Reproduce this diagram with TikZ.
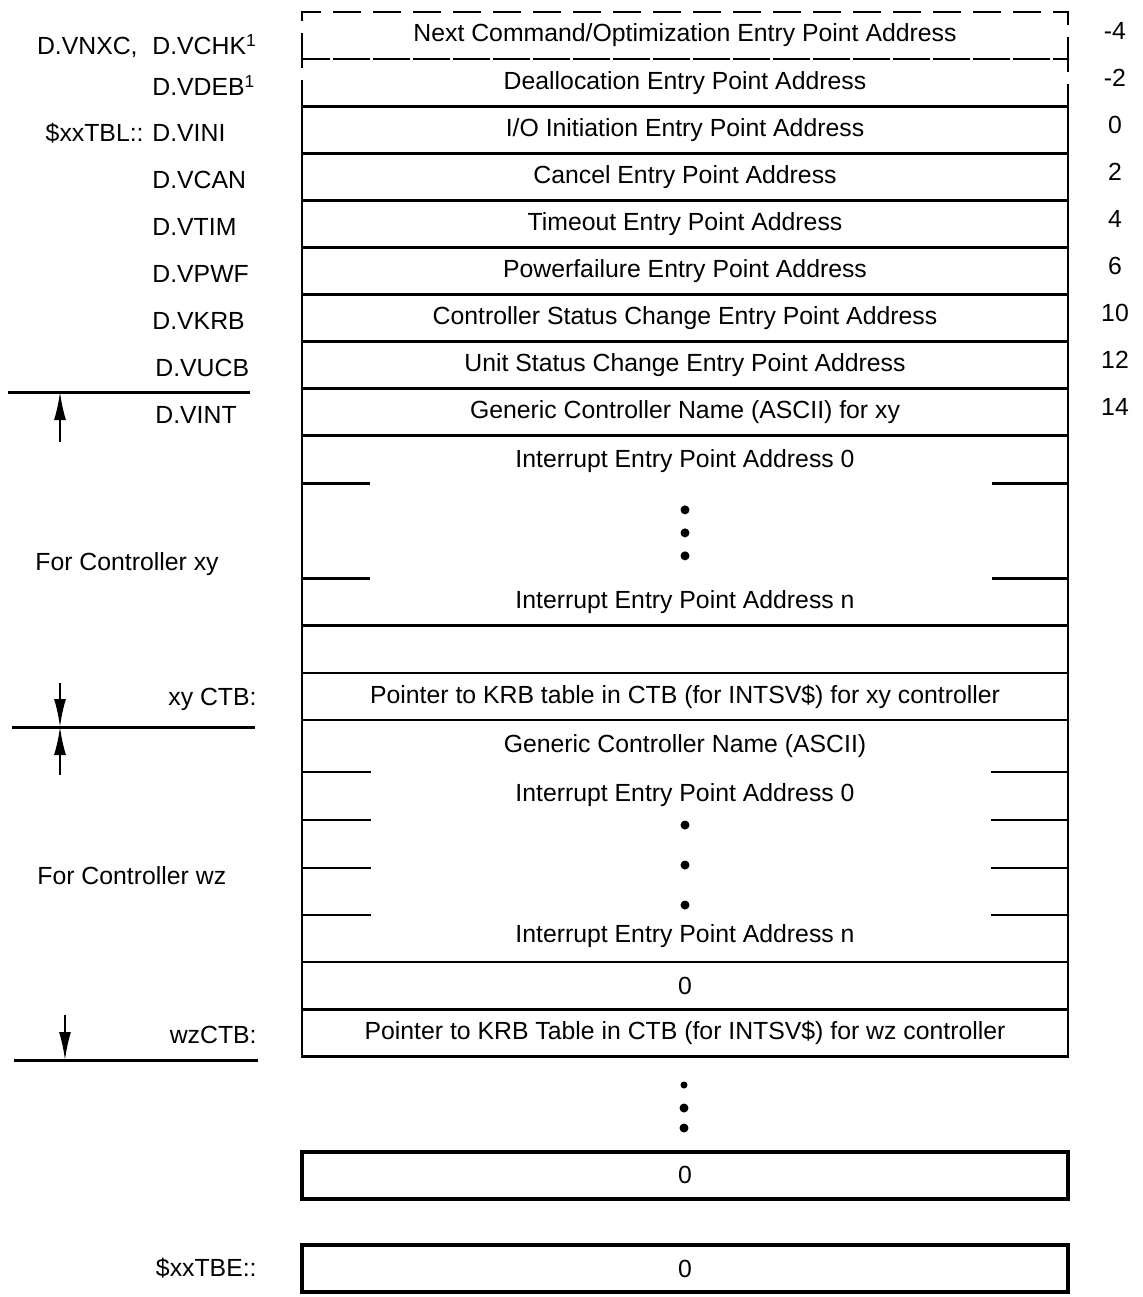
\documentclass[tikz,border=0pt]{standalone}
\usepackage{fontspec}
\setmainfont{Liberation Sans}
\usetikzlibrary{arrows.meta, positioning, calc}

\begin{document}
\begin{tikzpicture}[
  x=0.5pt, y=-0.5pt,
  font=\fontsize{12.4}{14}\selectfont,
  cell/.style={draw, line width=1.4pt, minimum width=383pt, minimum height=23.55pt,
               inner sep=0pt, outer sep=0pt},
  dcell/.style={cell, dash pattern=on 14pt off 6pt},
  lab/.style={anchor=west, inner sep=0pt, yshift=-1.5pt},
  rlab/.style={anchor=east, inner sep=0pt},
  num/.style={inner sep=0pt, yshift=2.5pt},
  tick/.style={line width=1.4pt},
  rule/.style={line width=1.5pt},
  arr/.style={-{Latex[length=14pt, width=6pt]}, line width=1pt},
  dot/.style={circle, fill, inner sep=0pt, minimum size=4.5pt}
]
\useasboundingbox (0,0) rectangle (1142,1297);

% label columns
\coordinate (lcol) at (152,0);
\coordinate (rcol) at (257,0);
\coordinate (ncol) at (1115,0);

% the table
\node[dcell] (vnxc) at (685,35.5) {Next Command/Optimization Entry Point Address};
\node[dcell, below=0pt of vnxc] (vdeb) {Deallocation Entry Point Address};
\node[cell, below=0pt of vdeb] (vini) {I/O Initiation Entry Point Address};
\node[cell, below=0pt of vini] (vcan) {Cancel Entry Point Address};
\node[cell, below=0pt of vcan] (vtim) {Timeout Entry Point Address};
\node[cell, below=0pt of vtim] (vpwf) {Powerfailure Entry Point Address};
\node[cell, below=0pt of vpwf] (vkrb) {Controller Status Change Entry Point Address};
\node[cell, below=0pt of vkrb] (vucb) {Unit Status Change Entry Point Address};
\node[cell, below=0pt of vucb] (vint) {Generic Controller Name (ASCII) for xy};
\node[cell, below=0pt of vint, minimum height=95pt] (intxy) {};
\node[cell, below=0pt of intxy] (sepxy) {};
\node[cell, below=0pt of sepxy] (ctbxy) {Pointer to KRB table in CTB (for INTSV\$) for xy controller};
\node[cell, below=0pt of ctbxy, minimum height=121pt] (intwz) {};
\node[cell, below=0pt of intwz] (zerowz) {0};
\node[cell, below=0pt of zerowz] (ctbwz) {Pointer to KRB Table in CTB (for INTSV\$) for wz controller};
\node[cell, line width=1.8pt, below=47.8pt of ctbwz] (tend) {0};
\node[cell, line width=1.8pt, below=23pt of tend] (tbe) {0};

% xy interrupt block
\node at ([yshift=-12.5pt]intxy.north) (ixy0) {Interrupt Entry Point Address 0};
\node at ([yshift=12pt]intxy.south) (ixyn) {Interrupt Entry Point Address n};
\draw[tick] ([yshift=-24pt]intxy.north west) -- ++(68,0);
\draw[tick] ([yshift=-24pt]intxy.north east) -- ++(-76,0);
\draw[tick] ([yshift=23.5pt]intxy.south west) -- ++(68,0);
\draw[tick] ([yshift=23.5pt]intxy.south east) -- ++(-76,0);
\node[dot] (dxy1) at ([yshift=-37pt]intxy.north) {};
\node[dot] (dxy2) at ([yshift=-48.5pt]intxy.north) {};
\node[dot] (dxy3) at ([yshift=-60pt]intxy.north) {};

% wz interrupt block
\node at ([yshift=-13pt]intwz.north) (gwz) {Generic Controller Name (ASCII)};
\node at ([yshift=-37.5pt]intwz.north) (iwz0) {Interrupt Entry Point Address 0};
\node at ([yshift=13pt]intwz.south) (iwzn) {Interrupt Entry Point Address n};
\draw[tick] ([yshift=-26pt]intwz.north west) -- ++(69,0);
\draw[tick] ([yshift=-26pt]intwz.north east) -- ++(-77,0);
\draw[tick] ([yshift=-50pt]intwz.north west) -- ++(69,0);
\draw[tick] ([yshift=-50pt]intwz.north east) -- ++(-77,0);
\draw[tick] ([yshift=-74pt]intwz.north west) -- ++(69,0);
\draw[tick] ([yshift=-74pt]intwz.north east) -- ++(-77,0);
\draw[tick] ([yshift=-97.5pt]intwz.north west) -- ++(69,0);
\draw[tick] ([yshift=-97.5pt]intwz.north east) -- ++(-77,0);
\node[dot] (dwz1) at ([yshift=-52.5pt]intwz.north) {};
\node[dot] (dwz2) at ([yshift=-72.5pt]intwz.north) {};
\node[dot] (dwz3) at ([yshift=-92.5pt]intwz.north) {};

% more tables follow
\node[dot, minimum size=3.5pt] (dm1) at (684,1085) {};
\node[dot] (dm2) at (684,1108) {};
\node[dot] (dm3) at (684,1128) {};

% symbols on the left
\node[lab, yshift=-3pt] (lchk) at (vnxc.west -| lcol) {D.VCHK\textsuperscript{1}};
\node[inner sep=0pt, anchor=base east, xshift=-7pt] (lnxc) at (lchk.base west) {D.VNXC,};
\node[lab] (ldeb) at (vdeb.west -| lcol) {D.VDEB\textsuperscript{1}};
\node[lab] (lini) at (vini.west -| lcol) {D.VINI};
\node[inner sep=0pt, left=4pt of lini] (ltbl) {\$xxTBL::};
\node[lab] (lcan) at (vcan.west -| lcol) {D.VCAN};
\node[lab] (ltim) at (vtim.west -| lcol) {D.VTIM};
\node[lab] (lpwf) at (vpwf.west -| lcol) {D.VPWF};
\node[lab] (lkrb) at (vkrb.west -| lcol) {D.VKRB};
\node[lab, xshift=1.5pt] (lucb) at (vucb.west -| lcol) {D.VUCB};
\node[lab, xshift=1.5pt] (lint) at (vint.west -| lcol) {D.VINT};
\node[lab] (forxy) at (35,561) {For Controller xy};
\node[lab] (forwz) at (37,873) {For Controller wz};
\node[rlab, yshift=-1.5pt] (lctbxy) at (ctbxy.west -| rcol) {xy CTB:};
\node[rlab, yshift=-1pt] (lctbwz) at (ctbwz.west -| rcol) {wzCTB:};
\node[rlab] (ltbe) at (tbe.west -| rcol) {\$xxTBE::};

% offsets on the right
\node[num] (nnxc) at (vnxc.east -| ncol) {-4};
\node[num] (ndeb) at (vdeb.east -| ncol) {-2};
\node[num] (nini) at (vini.east -| ncol) {0};
\node[num] (ncan) at (vcan.east -| ncol) {2};
\node[num] (ntim) at (vtim.east -| ncol) {4};
\node[num] (npwf) at (vpwf.east -| ncol) {6};
\node[num] (nkrb) at (vkrb.east -| ncol) {10};
\node[num] (nucb) at (vucb.east -| ncol) {12};
\node[num] (nint) at (vint.east -| ncol) {14};

% rules and pointers
\coordinate (ra) at (8,392);
\coordinate (rb) at (12,727);
\coordinate (rc) at (14,1060);
\draw[rule] (ra) -- ++(242,0);
\draw[rule] (rb) -- ++(243,0);
\draw[rule] (rc) -- ++(244,0);
\coordinate (pa) at (60,442);
\coordinate (pb) at (60,683);
\coordinate (pc) at (60,775);
\coordinate (pd) at (65,1015);
\draw[arr] (pa) -- (pa |- ra);
\draw[arr] (pb) -- (pb |- rb);
\draw[arr] (pc) -- (pc |- rb);
\draw[arr] (pd) -- (pd |- rc);
\end{tikzpicture}
\end{document}
